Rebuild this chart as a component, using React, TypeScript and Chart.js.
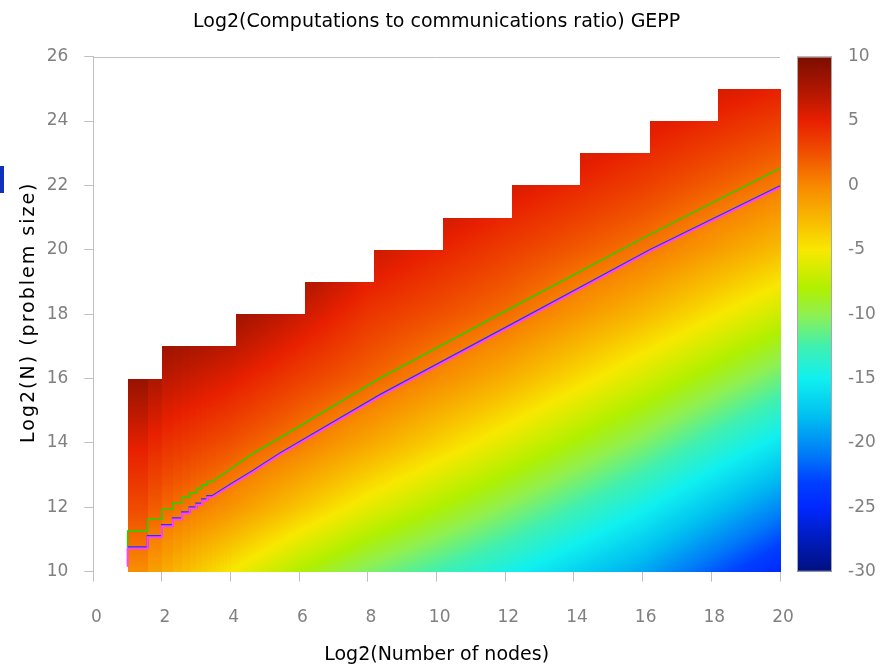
import React, { useEffect, useRef } from 'react';
import { Chart, registerables } from 'chart.js';

Chart.register(...registerables);

// ---------- data ----------
const chartTitle = 'Log2(Computations to communications ratio) GEPP';
const xTitle = 'Log2(Number of nodes)';
const yTitle = 'Log2(N) (problem size)';

// heat field: values at grid nodes (rows = heatY, columns = heatX)
const heatX = [1, 2, 4, 6, 8, 12, 16, 20];
const heatY = [10, 12, 14, 16, 18, 20, 22, 24, 25];
const heatRows = [
  [-0.3, -2.0, -5.0, -8.0, -10.5, -14.5, -19.0, -25.0],
  [2.8, 1.4, -0.6, -3.2, -5.75, -10.15, -14.75, -20.25],
  [5.3, 4.1, 2.5, 0.55, -1.6, -5.95, -10.5, -15.6],
  [8.6, 6.8, 5.35, 3.4, 1.7, -2.05, -6.45, -11.15],
  [10, 9.5, 8.35, 6.2, 3.9, 1.25, -2.57, -6.85],
  [10, 10, 10, 9.1, 6.3, 3.5, 0.82, -2.8],
  [10, 10, 10, 10, 8.7, 5.9, 3.4, 0.5],
  [10, 10, 10, 10, 10, 8.3, 5.7, 3.5],
  [10, 10, 10, 10, 10, 9.5, 6.9, 5.0],
];

// discrete node columns at the left (log2 of node counts)
const stripBounds = [1, 1.585, 2, 2.32, 2.585, 2.807, 3, 3.17, 3.32, 3.46, 3.585, 3.7, 3.807, 3.907, 4];

// staircase upper limit of the computed region
const topBounds = [1, 2, 4.17, 6.17, 8.18, 10.19, 12.19, 14.18, 16.2, 18.19, 20];
const topLevels = [16, 17, 18, 19, 20, 21, 22, 23, 24, 25];

// lines: stepped part (levels between consecutive bounds), then smooth part
const lineStepBounds = [1, 1.585, 2, 2.32, 2.585, 2.807, 3, 3.17, 3.32, 3.46];
const greenStart = 10.76;
const greenLevels = [11.26, 11.63, 11.94, 12.14, 12.31, 12.45, 12.59, 12.69, 12.8];
const greenX = [3.98, 4.66, 5.44, 8.35, 12.43, 16.22, 20];
const greenY = [13.18, 13.68, 14.16, 16.01, 18.34, 20.48, 22.53];

const blueStart = 10.76;
const blueLevels = [10.76, 11.11, 11.45, 11.66, 11.85, 12.0, 12.12, 12.25, 12.35];
const blueX = [3.98, 4.66, 5.44, 8.35, 12.43, 16.22, 20];
const blueY = [12.7, 13.14, 13.68, 15.49, 17.82, 20.0, 21.98];

const pinkStart = 10.15;
const pinkLevels = [10.72, 11.07, 11.41, 11.62, 11.81, 11.96, 12.08, 12.21, 12.31];
const pinkX = [3.98, 4.66, 5.44, 8.35, 12.43, 16.22, 20];
const pinkY = [12.66, 13.1, 13.64, 15.45, 17.78, 19.96, 21.94];

// colour scale
const cbarMin = -30;
const cbarMax = 10;
const cmapStops = [-30, -27, -25, -23, -21, -18, -15, -12.5, -10, -8, -5, -3, 0, 2.5, 5, 7, 10];
const cmapColors: number[][] = [
  [0, 16, 128], [0, 30, 200], [0, 40, 255], [0, 64, 255], [0, 120, 248], [0, 190, 240],
  [16, 240, 240], [64, 240, 176], [144, 240, 80], [176, 240, 0], [248, 232, 0], [248, 192, 0],
  [248, 136, 0], [240, 80, 0], [232, 32, 0], [184, 24, 0], [122, 14, 0],
];

// ---------- helpers ----------
const FONT = 'DejaVu Sans';

function cmap(v: number): number[] {
  const c = Math.max(cbarMin, Math.min(cbarMax, v));
  for (let i = 0; i < cmapStops.length - 1; i++) {
    if (c <= cmapStops[i + 1]) {
      const t = (c - cmapStops[i]) / (cmapStops[i + 1] - cmapStops[i]);
      const a = cmapColors[i], b = cmapColors[i + 1];
      return [a[0] + (b[0] - a[0]) * t, a[1] + (b[1] - a[1]) * t, a[2] + (b[2] - a[2]) * t];
    }
  }
  return cmapColors[cmapColors.length - 1];
}

function seg(arr: number[], v: number): [number, number] {
  if (v <= arr[0]) return [0, 0];
  for (let i = 0; i < arr.length - 1; i++) {
    if (v <= arr[i + 1]) return [i, (v - arr[i]) / (arr[i + 1] - arr[i])];
  }
  return [arr.length - 2, 1];
}

function heatValue(x: number, y: number): number {
  const [i, tx] = seg(heatX, x);
  const [j, ty] = seg(heatY, y);
  const v00 = heatRows[j][i], v10 = heatRows[j][i + 1];
  const v01 = heatRows[j + 1][i], v11 = heatRows[j + 1][i + 1];
  return (v00 * (1 - tx) + v10 * tx) * (1 - ty) + (v01 * (1 - tx) + v11 * tx) * ty;
}

function buildLine(start: number, levels: number[], xs: number[], ys: number[]) {
  const pts: { x: number; y: number }[] = [{ x: lineStepBounds[0], y: start }];
  for (let i = 0; i < levels.length; i++) {
    pts.push({ x: lineStepBounds[i], y: levels[i] });
    pts.push({ x: lineStepBounds[i + 1], y: levels[i] });
  }
  for (let i = 0; i < xs.length; i++) pts.push({ x: xs[i], y: ys[i] });
  return pts;
}

const heatPlugin = {
  id: 'heat',
  beforeDatasetsDraw(chart: any) {
    const { ctx, chartArea, scales } = chart;
    const xs = scales.x, ys = scales.y;
    const left = Math.floor(chartArea.left), top = Math.floor(chartArea.top);
    const w = Math.ceil(chartArea.right) - left + 1;
    const h = Math.ceil(chartArea.bottom) - top;
    const off = document.createElement('canvas');
    off.width = w; off.height = h;
    const octx = off.getContext('2d')!;
    const img = octx.createImageData(w, h);
    const x0 = topBounds[0], x1 = topBounds[topBounds.length - 1];
    for (let i = 0; i < w; i++) {
      const xv = xs.getValueForPixel(left + i + 0.5);
      if (xv < x0 || xv > x1 + 0.02) continue;
      let topV = topLevels[topLevels.length - 1];
      for (let k = 0; k < topLevels.length; k++) {
        if (xv >= topBounds[k] && xv < topBounds[k + 1]) { topV = topLevels[k]; break; }
      }
      let sx = xv;
      if (xv < stripBounds[stripBounds.length - 1]) {
        for (let k = 0; k < stripBounds.length - 1; k++) {
          if (xv >= stripBounds[k] && xv < stripBounds[k + 1]) { sx = stripBounds[k]; break; }
        }
      }
      for (let j = 0; j < h; j++) {
        const yv = ys.getValueForPixel(top + j + 0.5);
        if (yv > topV || yv < 10) continue;
        const c = cmap(heatValue(sx, yv));
        const p = (j * w + i) * 4;
        img.data[p] = c[0]; img.data[p + 1] = c[1]; img.data[p + 2] = c[2]; img.data[p + 3] = 255;
      }
    }
    octx.putImageData(img, 0, 0);
    ctx.drawImage(off, left, top);
  },
  afterDraw(chart: any) {
    const { ctx, chartArea, scales } = chart;
    const yc = scales.yc;
    ctx.save();
    // top frame line
    ctx.strokeStyle = '#c0c0c0';
    ctx.lineWidth = 1;
    ctx.beginPath();
    ctx.moveTo(chartArea.left, Math.round(chartArea.top) + 0.5);
    ctx.lineTo(chartArea.right, Math.round(chartArea.top) + 0.5);
    ctx.stroke();
    // colour bar
    const bx = chartArea.right + 17, bw = 35;
    const yTop = yc.getPixelForValue(cbarMax), yBot = yc.getPixelForValue(cbarMin);
    const grad = ctx.createLinearGradient(0, yBot, 0, yTop);
    for (let i = 0; i < cmapStops.length; i++) {
      const c = cmapColors[i];
      grad.addColorStop((cmapStops[i] - cbarMin) / (cbarMax - cbarMin), `rgb(${c[0]},${c[1]},${c[2]})`);
    }
    ctx.fillStyle = grad;
    ctx.fillRect(bx, yTop, bw, yBot - yTop);
    ctx.strokeStyle = '#a8a8a8';
    ctx.strokeRect(bx + 0.5, yTop + 0.5, bw - 1, yBot - yTop - 1);
    // title
    ctx.fillStyle = '#000';
    ctx.font = `19px "${FONT}"`;
    ctx.textAlign = 'center';
    ctx.textBaseline = 'alphabetic';
    ctx.fillText(chartTitle, (chartArea.left + chartArea.right) / 2, 26.5);
    // y axis title (rotated)
    ctx.save();
    ctx.translate(29, (chartArea.top + chartArea.bottom) / 2 - 2);
    ctx.rotate(-Math.PI / 2);
    ctx.textBaseline = 'middle';
    (ctx as any).letterSpacing = '2px';
    ctx.fillText(yTitle, 0, 0);
    ctx.restore();
    // clipped element at the far left edge
    ctx.fillStyle = '#1030c0';
    ctx.fillRect(0, 166, 4, 27);
    ctx.restore();
  },
};

export default function App() {
  const ref = useRef<HTMLCanvasElement | null>(null);
  useEffect(() => {
    if (!ref.current) return;
    const tickFont = { family: FONT, size: 17 };
    const chart = new Chart(ref.current, {
      type: 'scatter',
      data: {
        datasets: [
          { label: 'pink', data: buildLine(pinkStart, pinkLevels, pinkX, pinkY), borderColor: '#ff40ff', borderWidth: 2, showLine: true, pointRadius: 0, fill: false, tension: 0 } as any,
          { label: 'blue', data: buildLine(blueStart, blueLevels, blueX, blueY), borderColor: '#3030f0', borderWidth: 2, showLine: true, pointRadius: 0, fill: false, tension: 0 } as any,
          { label: 'green', data: buildLine(greenStart, greenLevels, greenX, greenY), borderColor: '#30cc00', borderWidth: 1.6, showLine: true, pointRadius: 0, fill: false, tension: 0 } as any,
        ],
      },
      options: {
        responsive: false,
        animation: false,
        devicePixelRatio: 1,
        layout: { padding: { top: 56.7, left: 0, right: 0, bottom: 0 } },
        plugins: { legend: { display: false }, tooltip: { enabled: false }, title: { display: false } },
        scales: {
          x: {
            type: 'linear', min: 0, max: 20, position: 'bottom',
            ticks: { stepSize: 2, font: tickFont, color: '#808080', padding: 26, labelOffset: 3 },
            grid: { drawOnChartArea: false, tickLength: 10, color: '#c0c0c0' },
            border: { display: false },
            title: { display: true, text: xTitle, font: { family: FONT, size: 19 }, color: '#000', padding: { top: 0, bottom: 1 } },
            afterFit: (s: any) => { s.height = 95.3; },
          },
          y: {
            type: 'linear', min: 10, max: 26, position: 'left',
            ticks: { stepSize: 2, font: tickFont, color: '#808080', padding: 16 },
            grid: { drawOnChartArea: false, tickLength: 9, color: '#c0c0c0' },
            border: { display: true, color: '#c0c0c0' },
            title: { display: false },
            afterFit: (s: any) => { s.width = 93.3; },
          },
          yc: {
            type: 'linear', min: cbarMin, max: cbarMax, position: 'right',
            ticks: { stepSize: 5, font: tickFont, color: '#808080', padding: 0 },
            grid: { display: true, drawOnChartArea: false, drawTicks: true, tickLength: 68, color: 'rgba(0,0,0,0)' },
            border: { display: false },
            afterFit: (s: any) => { s.width = 110; },
          },
        },
      } as any,
      plugins: [heatPlugin],
    });
    return () => chart.destroy();
  }, []);
  return (
    <div style={{ position: 'fixed', left: 0, top: 0, width: 890, height: 667, background: '#fff' }}>
      <canvas ref={ref} width={890} height={667} style={{ display: 'block', width: 890, height: 667 }} />
    </div>
  );
}
